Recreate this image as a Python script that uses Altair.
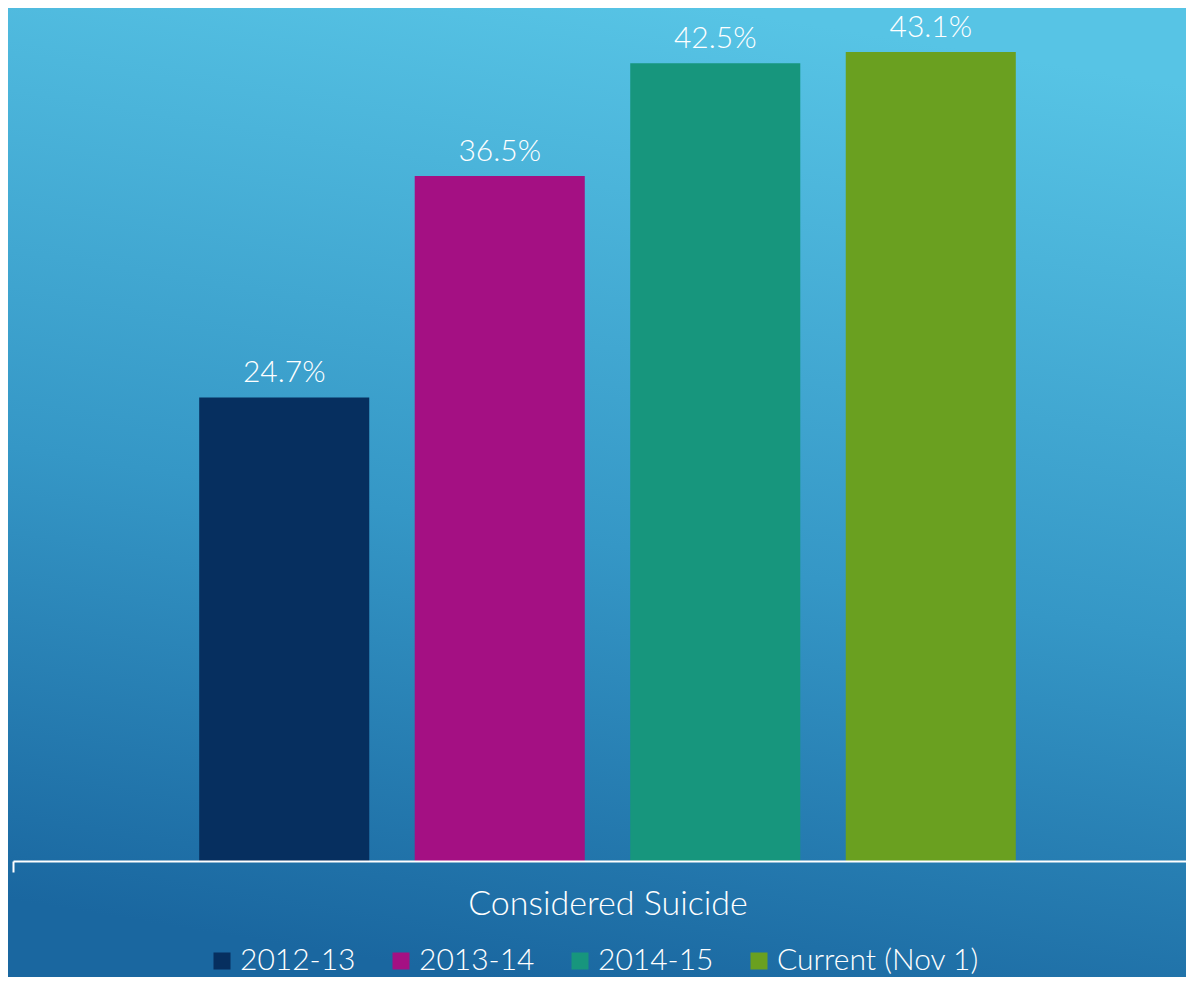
import altair as alt
import pandas as pd

categories = ["Considered Suicide"]
series = ["2012-13", "2013-14", "2014-15", "Current (Nov 1)"]
values = [24.7, 36.5, 42.5, 43.1]
colors = ["#062F5F", "#A41083", "#17967D", "#6AA020"]

df = pd.DataFrame({
    "category": [categories[0]] * len(series),
    "series": series,
    "value": values,
})

W, H, BOTTOM = 1178, 853, 116
FONT = "Lato"

bg = alt.Chart(alt.Data(values=[{}])).mark_rect(
    color=alt.LinearGradient(
        gradient="linear",
        stops=[
            alt.GradientStop(color="#57C4E5", offset=0),
            alt.GradientStop(color="#3597C6", offset=0.55),
            alt.GradientStop(color="#1A67A0", offset=1),
        ],
        x1=0.6, x2=0.4, y1=0, y2=1,
    ),
    clip=False,
).encode(
    x=alt.value(0), x2=alt.value(W), y=alt.value(0), y2=alt.value(H + BOTTOM)
)

x_enc = alt.X(
    "category:N",
    scale=alt.Scale(range=[5, 1194], paddingInner=0, paddingOuter=0),
    axis=alt.Axis(
        title=None, labelFontSize=34, labelColor="white", labelFont=FONT,
        labelFontWeight=300, labelAngle=0, labelLimit=0,
        labelBaseline="alphabetic", labelPadding=42,
        domainColor="white", domainWidth=2, tickColor="white", tickWidth=2,
        tickSize=11, tickBand="extent", grid=False, zindex=1,
    ),
)
xoff = alt.XOffset("series:N", sort=series,
                   scale=alt.Scale(paddingInner=0.211, paddingOuter=0.864))
y_enc = alt.Y("value:Q", scale=alt.Scale(domain=[0, 45.45], nice=False, zero=True),
              axis=None)

bars = alt.Chart(df).mark_bar().encode(
    x=x_enc, xOffset=xoff, y=y_enc,
    color=alt.Color(
        "series:N", sort=series,
        scale=alt.Scale(domain=series, range=colors),
        legend=alt.Legend(
            title=None, orient="none", legendX=199, legendY=938,
            direction="horizontal", symbolType="square", symbolSize=289,
            symbolStrokeWidth=0, labelFontSize=30, labelColor="white",
            labelFont=FONT, labelFontWeight=300, labelOffset=3,
            labelLimit=0, columnPadding=30, symbolOpacity=1, padding=0,
        ),
    ),
)

labels = alt.Chart(df).transform_calculate(
    label="format(datum.value, '.1f') + '%'"
).mark_text(
    dy=-15, baseline="alphabetic", fontSize=30, color="white", font=FONT,
    fontWeight=300,
).encode(x=x_enc, xOffset=xoff, y=y_enc, text="label:N")

chart = alt.layer(bg, bars, labels).properties(
    width=W, height=H,
    padding={"left": 0, "top": 0, "right": 0, "bottom": BOTTOM},
    autosize="none",
    background="#2F8CC0",
).configure_view(stroke=None)

chart.save("out.html", embed_options={"renderer": "svg", "actions": False})
